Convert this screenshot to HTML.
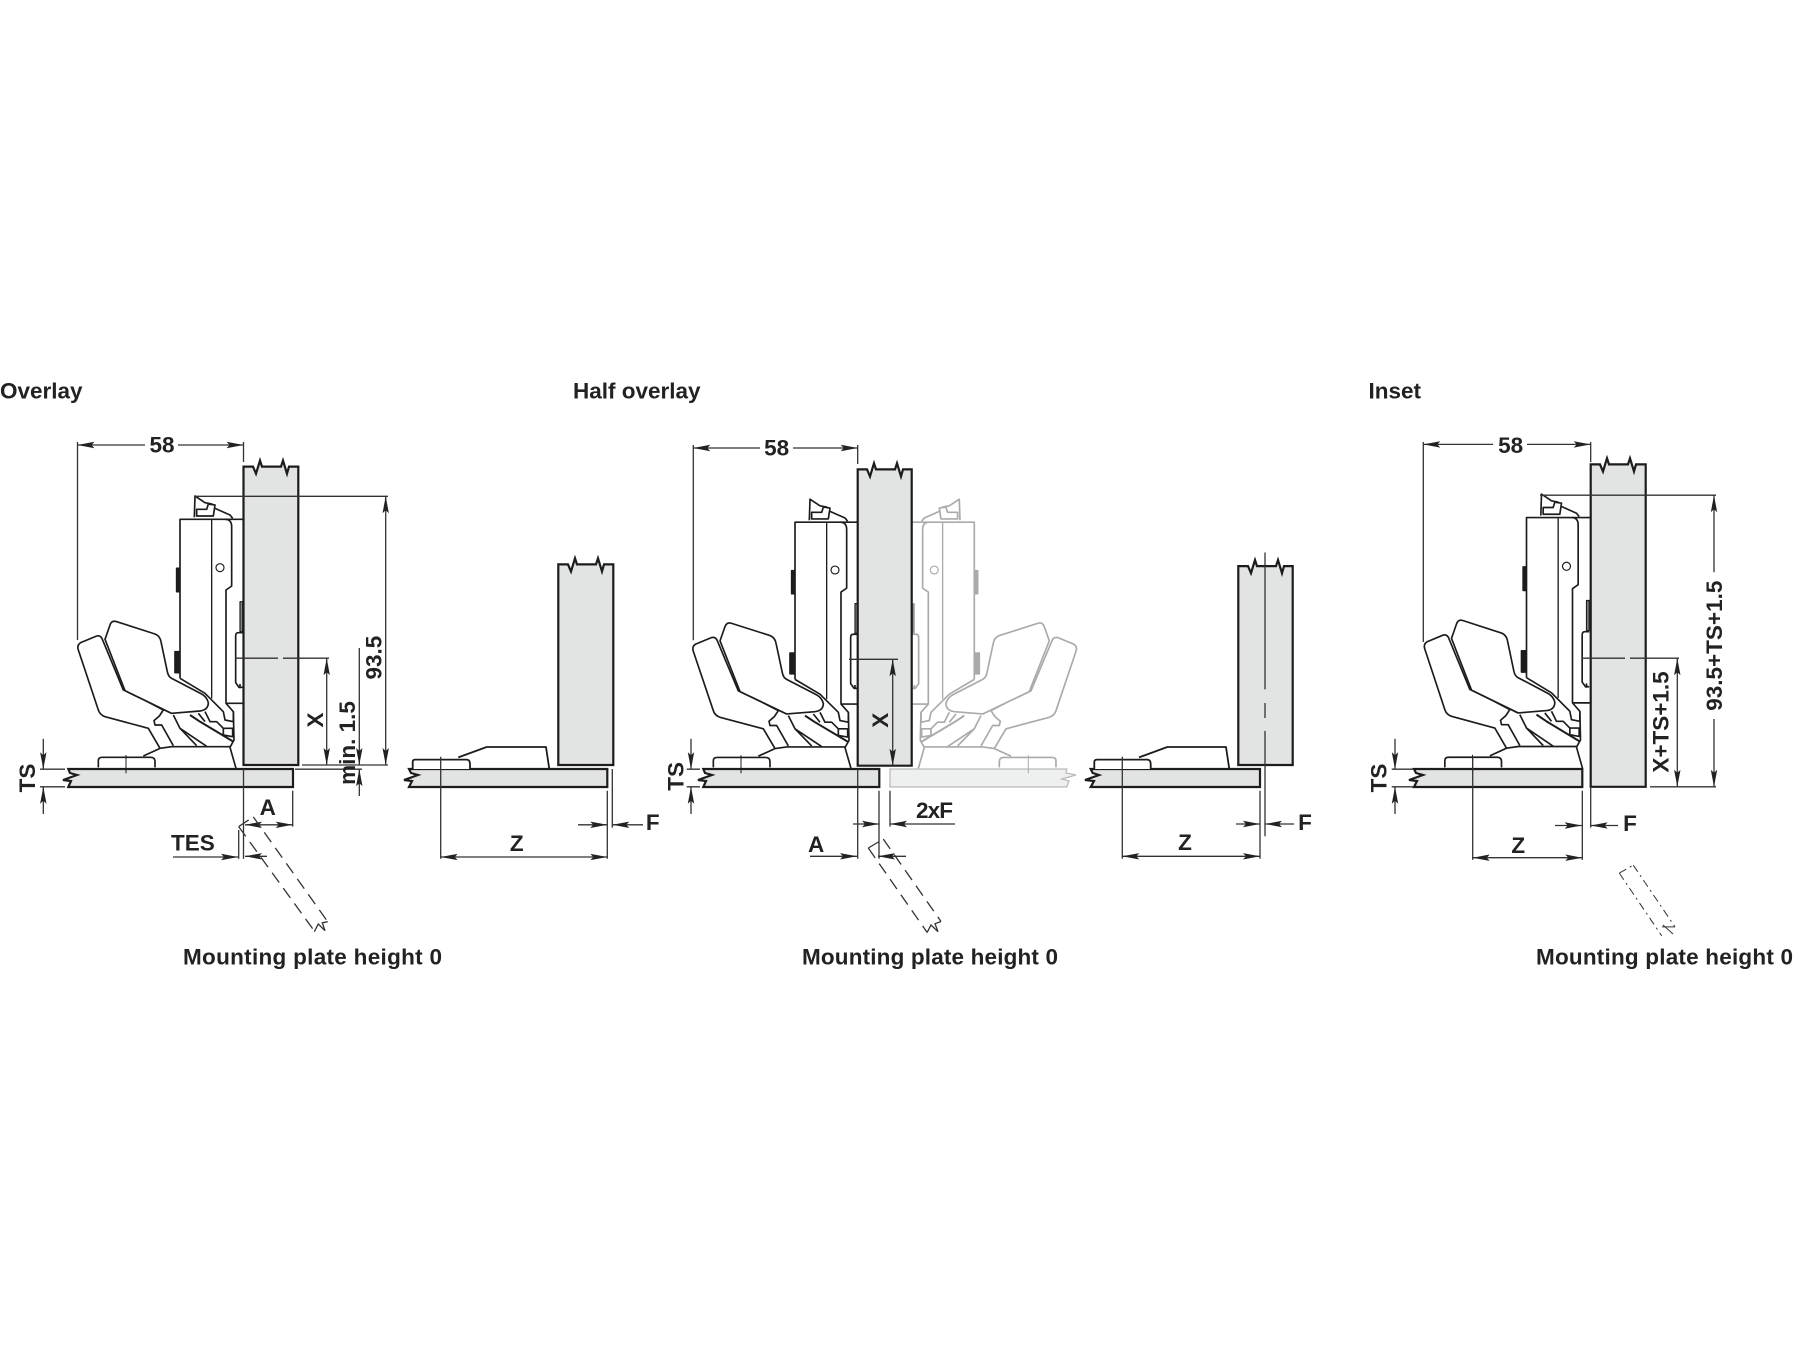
<!DOCTYPE html>
<html><head><meta charset="utf-8"><style>
html,body{margin:0;padding:0;background:#fff}
svg{display:block;filter:blur(.35px)}
text{font-family:"Liberation Sans",sans-serif;font-weight:bold;font-size:22.5px;fill:#222}
.m{text-anchor:middle}
.d{stroke:#333;stroke-width:1.3;fill:none}
.e{marker-end:url(#a)}
.b{marker-start:url(#a);marker-end:url(#a)}
.o{stroke:#1c1c1c;stroke-width:2.2;fill:#e2e3e3;stroke-linejoin:miter}
.g{stroke:#bbb;stroke-width:1.3;fill:#eeefef}
.k{stroke:#1c1c1c;stroke-width:1.8;fill:#fff;stroke-linejoin:round}
.p{stroke:#333;stroke-width:1.3;fill:none;stroke-dasharray:12 7}
</style></head><body>
<svg xmlns="http://www.w3.org/2000/svg" width="1800" height="1350" viewBox="0 0 1800 1350">
<defs>
<marker id="a" markerUnits="userSpaceOnUse" markerWidth="18" markerHeight="8" refX="17" refY="4" orient="auto-start-reverse"><path d="M0,.8 L17,4 L0,7.2 L3,4Z" fill="#222"/></marker>
<g id="h" transform="translate(60,480) scale(.33333)" fill="none" stroke="currentColor" stroke-width="5" stroke-linejoin="round">
<path d="M495,118H550M500,670H550"/>
<rect x="540" y="365" width="8" height="90" stroke-width="3.5" fill="#888"/>
<path d="M548,458H535Q527,458 527,468V608L537,622H548M540,612V625"/>
<path d="M455,118V655" stroke-width="4"/>
<path d="M360,595V118H495Q515,118 515,140V318L498,330V670L520,695L522,780L510,802L528,865"/>
<path d="M250,828L300,805L335,800H510"/>
<rect x="345" y="515" width="13" height="63" fill="currentColor"/>
<rect x="350" y="265" width="8" height="70" fill="currentColor"/>
<circle cx="480" cy="263" r="12" stroke-width="3.5"/>
<path d="M403,112L405,48L435,68L455,72L465,85L510,105L518,115"/>
<path d="M410,88V108H460L465,75L445,72L440,88Z" fill="#fff"/>
<path d="M360,595L435,640L490,695L495,720L520,725V695"/>
<path d="M435,695L450,725H470L490,745"/>
<path d="M490,745H518V770L490,765Z" fill="#fff"/>
<path d="M390,705L420,725L520,785" stroke-width="6"/>
<path d="M415,700L435,725"/>
<path d="M340,705L360,745L410,797M360,745L440,799"/>
<path d="M300,805L265,745L135,710Q120,705 115,690L55,510Q50,495 62,488L110,468Q122,465 127,478L190,630L215,640L330,695" fill="#fff"/>
<path d="M215,640L310,690L298,708L282,722L285,735L305,735L340,797M195,632L335,700"/>
<path d="M335,700L420,693Q445,690 445,668Q440,650 425,642L335,595Q325,590 322,575L303,485Q300,468 285,462L170,425Q155,420 150,435L135,478L195,632Z" fill="#fff"/>
<path d="M115,862V842Q115,832 127,832H272Q285,832 285,845V862"/>
<path d="M198,825V880" stroke-width="3"/>
</g>
</defs>

<!-- titles -->
<text x="0" y="398.5">Overlay</text>
<text x="573" y="398.5">Half overlay</text>
<text x="1368.5" y="398.5">Inset</text>

<!-- ===== Overlay, left ===== -->
<path class="o" d="M68.3,769L70,773L77,775L63,780L71,781L68.3,787H293V769Z"/>
<use href="#h" style="color:#1c1c1c"/>
<path class="o" d="M243.5,466.6H253L256,473.7L260,460.5L262,466.6H281L283,460.5L287,473.7L289,466.6H298.3V765H243.5Z"/>
<line class="d" x1="243.5" y1="769" x2="243.5" y2="858.8"/>
<line class="d" x1="77.5" y1="442" x2="77.5" y2="640"/>
<line class="d" x1="243.5" y1="442" x2="243.5" y2="462"/>
<line class="d e" x1="145" y1="445" x2="77.5" y2="445"/>
<line class="d e" x1="178" y1="445" x2="243.5" y2="445"/>
<text class="m" x="162" y="452.5">58</text>
<line class="d" x1="195" y1="496.3" x2="388" y2="496.3"/>
<line class="d b" x1="385.7" y1="496.3" x2="385.7" y2="765"/>
<line class="d" x1="302" y1="765" x2="388" y2="765"/>
<text class="m" transform="translate(381.7,657.6) rotate(-90)">93.5</text>
<path class="d" d="M235,658.2H278M283,658.2H329"/>
<line class="d b" x1="326.7" y1="658.2" x2="326.7" y2="765"/>
<text class="m" transform="translate(323,720) rotate(-90)">X</text>
<line class="d e" x1="359.3" y1="648" x2="359.3" y2="765"/>
<line class="d e" x1="359.3" y1="796" x2="359.3" y2="769.2"/>
<line class="d" x1="295" y1="769.2" x2="362" y2="769.2"/>
<text class="m" transform="translate(355,743) rotate(-90)">min. 1.5</text>
<path class="d" d="M40,769.2H65M40,786.8H65"/>
<line class="d e" x1="43.3" y1="738.8" x2="43.3" y2="769.2"/>
<line class="d e" x1="43.3" y1="814" x2="43.3" y2="786.8"/>
<text class="m" transform="translate(35,778) rotate(-90)">TS</text>
<line class="d" x1="292.7" y1="790.7" x2="292.7" y2="826.6"/>
<line class="d b" x1="245" y1="824.8" x2="292.7" y2="824.8"/>
<text class="m" x="267.7" y="815">A</text>
<text x="171" y="850.5">TES</text>
<line class="d e" x1="173" y1="857" x2="238" y2="857"/>
<line class="d" x1="238.7" y1="830" x2="238.7" y2="858.8"/>
<line class="d e" x1="267" y1="856.3" x2="245" y2="856.3"/>
<path class="p" d="M238.7,826.6L253.3,816.9M238.7,826.6L314.3,931M253.3,816.9L327.7,921.7"/>
<path class="d" d="M314.3,931.7L318.3,924L325,930.7L322.3,922.7L327.7,921.7"/>
<text x="183" y="964.5" textLength="259">Mounting plate height 0</text>

<!-- ===== Overlay, right ===== -->
<path class="o" d="M409,769L411,773L418,775L404,780L412,781L409,787H607.3V769Z"/>
<path class="k" d="M412.7,769V762Q412.7,759.6 415,759.6H466.7Q470,759.6 470,764V769"/>
<path class="k" style="fill:none" d="M458.3,757.4L486.7,747H546L549.3,769M470,769H549.3"/>
<path class="o" d="M558.3,564.4H568L571,571.5L575,558.3L577,564.4H596L598,558.3L602,571.5L604,564.4H613.3V765H558.3Z"/>
<path class="d" d="M440.7,756.7V858.8M607.3,790.7V858.8M612.3,769V827.6"/>
<line class="d e" x1="578" y1="824.8" x2="607.3" y2="824.8"/>
<line class="d e" x1="643" y1="824.8" x2="612.3" y2="824.8"/>
<text class="m" x="652.7" y="830">F</text>
<line class="d b" x1="440.7" y1="857" x2="607.3" y2="857"/>
<text class="m" x="516.7" y="851">Z</text>

<!-- ===== Half overlay, ghost ===== -->
<path class="g" d="M890,769V787H1066.7L1069,781L1062,779L1076,775L1066,773L1066.7,769Z"/>
<g transform="translate(1154.3,769) scale(-1,.9884) translate(0,-769)"><use href="#h" style="color:#aaa"/></g>

<!-- ===== Half overlay, left ===== -->
<path class="o" d="M703.3,769L705,773L712,775L698,780L706,781L703.3,787H879.3V769Z"/>
<g transform="translate(615,769) scale(1,.9884) translate(0,-769)"><use href="#h" style="color:#1c1c1c"/></g>
<path class="o" d="M857.7,469.4H867L870,476.5L874,463.3L876,469.4H895L897,463.3L901,476.5L903,469.4H911.7V765.7H857.7Z"/>
<path class="d" d="M693.3,445V640.3M857.7,445V464M857.7,769V858.8M879,790.7V858.8M890,790.7V826.6"/>
<line class="d e" x1="760" y1="448" x2="693.3" y2="448"/>
<line class="d e" x1="793" y1="448" x2="857.7" y2="448"/>
<text class="m" x="776.7" y="455.5">58</text>
<line class="d" x1="849" y1="659.3" x2="898" y2="659.3"/>
<line class="d b" x1="892.7" y1="659.3" x2="892.7" y2="765.7"/>
<text class="m" transform="translate(888,720.2) rotate(-90)">X</text>
<text x="916" y="818" textLength="37">2xF</text>
<line class="d e" x1="955" y1="824" x2="890" y2="824"/>
<line class="d e" x1="853" y1="824" x2="879" y2="824"/>
<path class="d" d="M686.7,769.2H700M686.7,786.8H700"/>
<line class="d e" x1="691" y1="738.8" x2="691" y2="769.2"/>
<line class="d e" x1="691" y1="814" x2="691" y2="786.8"/>
<text class="m" transform="translate(683.3,776.4) rotate(-90)">TS</text>
<text x="808" y="852">A</text>
<line class="d e" x1="810" y1="856.3" x2="857" y2="856.3"/>
<line class="d e" x1="906" y1="856.3" x2="878" y2="856.3"/>
<path class="p" d="M868.3,848L883.3,839.1M868.3,848L927,932.2M883.3,839.1L941,921.5"/>
<path class="d" d="M927,932.7L931,925L938,931.7L935,923.7L941,921.5"/>
<text x="802" y="964.5" textLength="256">Mounting plate height 0</text>

<!-- ===== Half overlay, right ===== -->
<path class="o" d="M1090.7,769L1092.7,773L1099,775L1085,780L1094,781L1090.7,787H1260V769Z"/>
<path class="k" d="M1094.3,769V762Q1094.3,759.6 1097,759.6H1147.3Q1150.7,759.6 1150.7,764V769"/>
<path class="k" style="fill:none" d="M1139,757.4L1167.3,747H1226L1229.3,769M1150.7,769H1229.3"/>
<path class="o" d="M1238.3,566.1H1248L1251,573.2L1255,560L1257,566.1H1276L1278,560L1282,573.2L1284,566.1H1292.7V765H1238.3Z"/>
<path class="d" d="M1122.3,756.7V858.8M1260,790.7V858.8M1265,552.5V689.4M1265,703V718M1265,730.9V836.2"/>
<line class="d e" x1="1236" y1="824" x2="1260" y2="824"/>
<line class="d e" x1="1294" y1="824" x2="1265" y2="824"/>
<text class="m" x="1305" y="830">F</text>
<line class="d b" x1="1122.3" y1="856.3" x2="1260" y2="856.3"/>
<text class="m" x="1185" y="850">Z</text>

<!-- ===== Inset ===== -->
<path class="o" d="M1414,769L1416,773L1423,775L1409,780L1417,781L1414,787H1582.3V769Z"/>
<g transform="translate(1346.5,769) scale(1,1.007) translate(0,-769)"><use href="#h" style="color:#1c1c1c"/></g>
<path class="o" d="M1590.7,464.4H1600L1603,471.5L1607,458.3L1609,464.4H1628L1630,458.3L1634,471.5L1636,464.4H1645.7V786.8H1590.7Z"/>
<path class="d" d="M1423.3,442V642M1590.7,442V462"/>
<line class="d e" x1="1493" y1="444.4" x2="1423.3" y2="444.4"/>
<line class="d e" x1="1527" y1="444.4" x2="1590.7" y2="444.4"/>
<text class="m" x="1510.7" y="453">58</text>
<path class="d" d="M1540,495.2H1716M1650,786.8H1716"/>
<line class="d" style="marker-start:url(#a)" x1="1714" y1="495.2" x2="1714" y2="572.2"/>
<line class="d e" x1="1714" y1="719" x2="1714" y2="786.8"/>
<text class="m" transform="translate(1722,645.7) rotate(-90)">93.5+TS+1.5</text>
<path class="d" d="M1581.7,658.2H1625M1630,658.2H1679"/>
<line class="d b" x1="1677.3" y1="658.2" x2="1677.3" y2="786.8"/>
<text class="m" transform="translate(1668.3,722) rotate(-90)">X+TS+1.5</text>
<path class="d" d="M1391.7,769.2H1413M1391.7,786.8H1413"/>
<line class="d e" x1="1395" y1="738.8" x2="1395" y2="769.2"/>
<line class="d e" x1="1395" y1="814" x2="1395" y2="786.8"/>
<text class="m" transform="translate(1386.7,778) rotate(-90)">TS</text>
<path class="d" d="M1472.7,756.7V859.9M1582.3,790.7V859.9M1590.7,786.8V827.6"/>
<line class="d b" x1="1472.7" y1="857.7" x2="1582.3" y2="857.7"/>
<text class="m" x="1518.3" y="853">Z</text>
<line class="d e" x1="1555" y1="825.5" x2="1581.7" y2="825.5"/>
<line class="d e" x1="1618" y1="825.5" x2="1590.7" y2="825.5"/>
<text class="m" x="1630" y="831">F</text>
<path class="p" style="stroke-dasharray:8 4 2 4;stroke-width:1" d="M1619.3,873.1L1633.3,865.2M1619.3,873.1L1661.7,935.8M1633.3,865.2L1675,926.9"/>
<path class="d" style="stroke-width:1" d="M1662,926.9H1675M1663,925L1673,934"/>
<text x="1536" y="964.5" textLength="257">Mounting plate height 0</text>
</svg>
</body></html>
